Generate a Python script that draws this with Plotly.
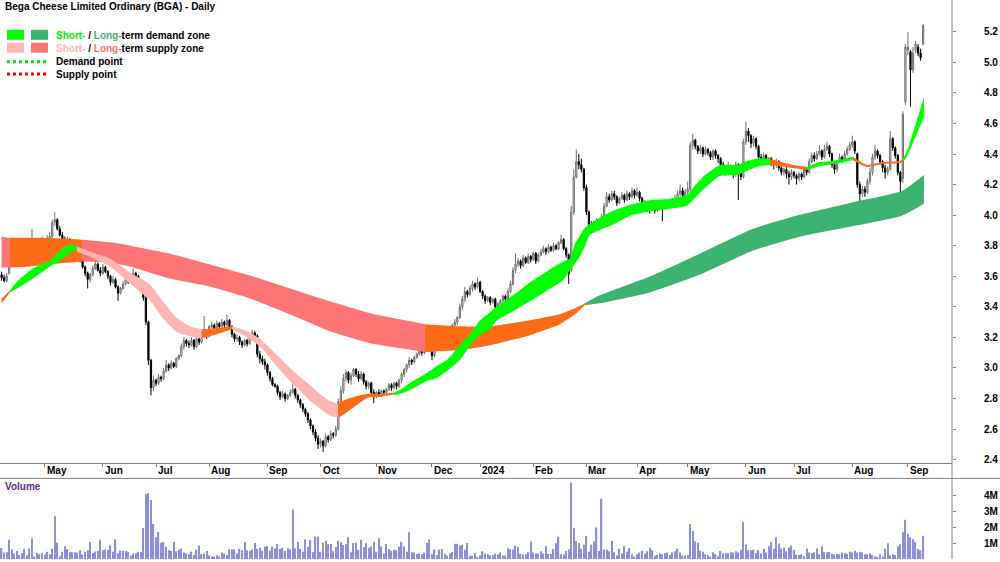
import pandas as pd
import plotly.graph_objects as go

# ---------------- data ----------------
HOLIDAYS = ['2023-04-07', '2023-04-10', '2023-04-25', '2023-06-12', '2023-12-25', '2023-12-26',
            '2024-01-01', '2024-01-26', '2024-03-29', '2024-04-01', '2024-04-25', '2024-06-10']

OPEN = [
    3.61, 3.59, 3.57, 3.62, 3.76, 3.78, 3.80, 3.77, 3.79, 3.81,
    3.80, 3.82, 3.80, 3.84, 3.82, 3.83, 3.81, 3.84, 3.82, 3.84,
    3.86, 3.95, 3.97, 3.91, 3.87, 3.84, 3.82, 3.84, 3.81, 3.76,
    3.73, 3.74, 3.70, 3.66, 3.62, 3.58, 3.61, 3.65, 3.68, 3.64,
    3.62, 3.66, 3.63, 3.60, 3.56, 3.58, 3.53, 3.49, 3.52, 3.55,
    3.58, 3.57, 3.60, 3.62, 3.60, 3.56, 3.54, 3.46, 3.30, 3.05,
    2.87, 2.92, 2.90, 2.94, 2.93, 2.98, 3.02, 3.00, 3.03, 3.01,
    3.06, 3.08, 3.14, 3.18, 3.16, 3.15, 3.18, 3.14, 3.19, 3.17,
    3.22, 3.24, 3.21, 3.27, 3.28, 3.26, 3.29, 3.27, 3.30, 3.28,
    3.31, 3.27, 3.22, 3.19, 3.20, 3.17, 3.15, 3.18, 3.16, 3.20,
    3.23, 3.21, 3.09, 3.06, 3.04, 3.02, 2.97, 2.93, 2.89, 2.88,
    2.84, 2.81, 2.83, 2.80, 2.82, 2.84, 2.86, 2.82, 2.79, 2.76,
    2.73, 2.70, 2.66, 2.62, 2.58, 2.54, 2.50, 2.52, 2.49, 2.55,
    2.53, 2.57, 2.56, 2.60, 2.78, 2.85, 2.93, 2.97, 2.92, 2.95,
    2.99, 2.96, 2.93, 2.96, 2.91, 2.88, 2.90, 2.84, 2.82, 2.84,
    2.83, 2.85, 2.84, 2.86, 2.89, 2.87, 2.90, 2.88, 2.92, 2.96,
    2.99, 3.02, 3.05, 3.04, 3.07, 3.09, 3.11, 3.10, 3.12, 3.15,
    3.22, 3.08, 3.16, 3.20, 3.14, 3.19, 3.24, 3.22, 3.25, 3.28,
    3.30, 3.33, 3.40, 3.45, 3.50, 3.48, 3.52, 3.55, 3.53, 3.56,
    3.50, 3.47, 3.44, 3.46, 3.43, 3.45, 3.40, 3.42, 3.44, 3.47,
    3.45, 3.50, 3.55, 3.64, 3.68, 3.70, 3.67, 3.72, 3.69, 3.73,
    3.71, 3.75, 3.70, 3.74, 3.76, 3.78, 3.76, 3.79, 3.77, 3.80,
    3.78, 3.82, 3.84, 3.78, 3.74, 3.64, 4.02, 4.25, 4.35, 4.33,
    4.30, 4.18, 4.02, 3.94, 3.90, 3.92, 3.96, 3.94, 3.99, 4.06,
    4.12, 4.10, 4.14, 4.12, 4.08, 4.11, 4.13, 4.10, 4.14, 4.12,
    4.16, 4.13, 4.15, 4.11, 4.06, 4.08, 4.05, 4.04, 4.07, 4.03,
    4.05, 4.08, 4.06, 4.09, 4.07, 4.10, 4.08, 4.11, 4.14, 4.16,
    4.13, 4.15, 4.17, 4.46, 4.49, 4.45, 4.42, 4.44, 4.40, 4.43,
    4.41, 4.38, 4.42, 4.39, 4.37, 4.33, 4.30, 4.28, 4.32, 4.29,
    4.27, 4.33, 4.30, 4.25, 4.48, 4.55, 4.52, 4.47, 4.50, 4.45,
    4.38, 4.36, 4.39, 4.35, 4.37, 4.34, 4.33, 4.35, 4.31, 4.28,
    4.30, 4.27, 4.25, 4.28, 4.26, 4.24, 4.27, 4.25, 4.30, 4.28,
    4.35, 4.39, 4.37, 4.40, 4.42, 4.38, 4.43, 4.45, 4.40, 4.33,
    4.30, 4.35, 4.38, 4.36, 4.40, 4.43, 4.46, 4.48, 4.40, 4.20,
    4.14, 4.17, 4.15, 4.22, 4.28, 4.38, 4.42, 4.39, 4.35, 4.31,
    4.28, 4.30, 4.50, 4.44, 4.39, 4.28, 4.24, 4.74, 5.08, 5.07,
    4.95, 5.08, 5.10, 5.06, 5.12,
]
HIGH = [
    3.63, 3.61, 3.62, 3.78, 3.80, 3.82, 3.81, 3.80, 3.83, 3.82,
    3.84, 3.83, 3.91, 3.85, 3.85, 3.84, 3.86, 3.85, 3.87, 3.89,
    3.97, 4.02, 3.98, 3.93, 3.89, 3.86, 3.86, 3.85, 3.82, 3.78,
    3.76, 3.75, 3.71, 3.67, 3.63, 3.62, 3.67, 3.72, 3.69, 3.66,
    3.68, 3.67, 3.64, 3.61, 3.60, 3.59, 3.54, 3.53, 3.57, 3.60,
    3.60, 3.61, 3.65, 3.63, 3.61, 3.58, 3.55, 3.47, 3.31, 3.06,
    2.95, 2.93, 2.96, 2.95, 3.00, 3.05, 3.03, 3.05, 3.04, 3.07,
    3.09, 3.16, 3.20, 3.19, 3.18, 3.20, 3.19, 3.21, 3.20, 3.24,
    3.34, 3.25, 3.28, 3.30, 3.29, 3.31, 3.30, 3.32, 3.31, 3.35,
    3.32, 3.28, 3.23, 3.22, 3.21, 3.18, 3.19, 3.19, 3.22, 3.25,
    3.24, 3.22, 3.11, 3.08, 3.06, 3.03, 2.98, 2.94, 2.90, 2.89,
    2.85, 2.85, 2.84, 2.83, 2.86, 2.90, 2.87, 2.83, 2.80, 2.77,
    2.74, 2.71, 2.67, 2.63, 2.60, 2.56, 2.54, 2.53, 2.57, 2.56,
    2.59, 2.58, 2.62, 2.80, 2.88, 2.96, 2.99, 2.98, 2.97, 3.00,
    3.00, 2.98, 2.98, 2.97, 2.92, 2.91, 2.91, 2.86, 2.85, 2.86,
    2.86, 2.86, 2.87, 2.90, 2.90, 2.91, 2.91, 2.93, 2.97, 3.00,
    3.03, 3.07, 3.06, 3.08, 3.10, 3.13, 3.12, 3.14, 3.17, 3.24,
    3.23, 3.17, 3.22, 3.21, 3.20, 3.25, 3.25, 3.26, 3.29, 3.32,
    3.34, 3.42, 3.47, 3.53, 3.51, 3.54, 3.57, 3.56, 3.59, 3.57,
    3.51, 3.48, 3.47, 3.47, 3.46, 3.46, 3.43, 3.45, 3.48, 3.48,
    3.52, 3.57, 3.66, 3.75, 3.72, 3.71, 3.74, 3.73, 3.75, 3.74,
    3.76, 3.76, 3.75, 3.78, 3.80, 3.79, 3.81, 3.80, 3.82, 3.81,
    3.83, 3.87, 3.85, 3.79, 3.75, 4.06, 4.30, 4.43, 4.40, 4.37,
    4.31, 4.20, 4.03, 3.96, 3.93, 3.98, 3.97, 4.01, 4.08, 4.15,
    4.14, 4.16, 4.16, 4.13, 4.12, 4.15, 4.14, 4.16, 4.15, 4.18,
    4.17, 4.18, 4.16, 4.12, 4.10, 4.09, 4.07, 4.09, 4.08, 4.07,
    4.09, 4.09, 4.10, 4.10, 4.11, 4.11, 4.13, 4.16, 4.20, 4.18,
    4.17, 4.22, 4.48, 4.53, 4.50, 4.46, 4.46, 4.45, 4.45, 4.44,
    4.42, 4.43, 4.43, 4.40, 4.38, 4.35, 4.32, 4.35, 4.33, 4.31,
    4.35, 4.34, 4.31, 4.50, 4.61, 4.57, 4.53, 4.52, 4.51, 4.46,
    4.40, 4.41, 4.40, 4.38, 4.38, 4.36, 4.37, 4.36, 4.32, 4.31,
    4.32, 4.29, 4.30, 4.29, 4.27, 4.28, 4.28, 4.32, 4.31, 4.37,
    4.41, 4.41, 4.42, 4.46, 4.43, 4.46, 4.48, 4.46, 4.41, 4.35,
    4.36, 4.40, 4.39, 4.42, 4.45, 4.48, 4.52, 4.49, 4.41, 4.22,
    4.19, 4.19, 4.24, 4.31, 4.40, 4.46, 4.43, 4.40, 4.36, 4.33,
    4.32, 4.55, 4.51, 4.45, 4.40, 4.29, 4.68, 5.12, 5.20, 5.08,
    5.10, 5.14, 5.12, 5.09, 5.25,
]
LOW = [
    3.57, 3.56, 3.56, 3.61, 3.75, 3.77, 3.76, 3.76, 3.78, 3.78,
    3.79, 3.79, 3.79, 3.81, 3.81, 3.80, 3.80, 3.81, 3.81, 3.83,
    3.85, 3.93, 3.90, 3.86, 3.83, 3.80, 3.81, 3.79, 3.75, 3.72,
    3.71, 3.69, 3.65, 3.60, 3.52, 3.56, 3.60, 3.64, 3.63, 3.60,
    3.61, 3.62, 3.58, 3.54, 3.55, 3.52, 3.44, 3.48, 3.51, 3.54,
    3.55, 3.56, 3.59, 3.58, 3.55, 3.52, 3.44, 3.28, 3.02, 2.82,
    2.85, 2.88, 2.89, 2.91, 2.92, 2.97, 2.98, 2.99, 3.00, 3.00,
    3.05, 3.07, 3.12, 3.14, 3.13, 3.14, 3.12, 3.13, 3.15, 3.16,
    3.20, 3.19, 3.20, 3.25, 3.24, 3.25, 3.25, 3.26, 3.26, 3.27,
    3.25, 3.20, 3.17, 3.17, 3.15, 3.13, 3.14, 3.14, 3.15, 3.19,
    3.19, 3.07, 3.03, 3.02, 2.99, 2.95, 2.91, 2.88, 2.87, 2.82,
    2.79, 2.80, 2.78, 2.79, 2.81, 2.83, 2.80, 2.77, 2.74, 2.71,
    2.68, 2.64, 2.60, 2.56, 2.52, 2.47, 2.48, 2.45, 2.48, 2.51,
    2.52, 2.54, 2.55, 2.59, 2.76, 2.83, 2.91, 2.90, 2.89, 2.94,
    2.94, 2.91, 2.92, 2.89, 2.86, 2.86, 2.82, 2.77, 2.80, 2.81,
    2.81, 2.82, 2.83, 2.85, 2.85, 2.86, 2.86, 2.87, 2.90, 2.94,
    2.97, 3.00, 3.02, 3.03, 3.06, 3.08, 3.08, 3.09, 3.11, 3.14,
    3.05, 3.07, 3.14, 3.12, 3.13, 3.18, 3.20, 3.21, 3.24, 3.26,
    3.28, 3.32, 3.38, 3.43, 3.46, 3.47, 3.50, 3.51, 3.52, 3.49,
    3.45, 3.42, 3.43, 3.41, 3.42, 3.34, 3.38, 3.41, 3.43, 3.43,
    3.44, 3.49, 3.54, 3.62, 3.66, 3.65, 3.66, 3.68, 3.68, 3.69,
    3.70, 3.68, 3.69, 3.73, 3.75, 3.74, 3.75, 3.76, 3.76, 3.77,
    3.77, 3.81, 3.77, 3.72, 3.55, 3.63, 4.00, 4.24, 4.30, 4.28,
    4.16, 4.00, 3.92, 3.88, 3.89, 3.91, 3.92, 3.93, 3.98, 4.05,
    4.08, 4.09, 4.10, 4.06, 4.07, 4.10, 4.08, 4.09, 4.10, 4.11,
    4.11, 4.12, 4.09, 4.02, 4.05, 4.02, 4.01, 4.03, 4.01, 4.02,
    4.03, 3.96, 4.04, 4.05, 4.06, 4.06, 4.07, 4.10, 4.12, 4.11,
    4.11, 4.13, 4.12, 4.43, 4.43, 4.40, 4.40, 4.38, 4.39, 4.39,
    4.36, 4.36, 4.37, 4.34, 4.30, 4.27, 4.26, 4.26, 4.27, 4.24,
    4.25, 4.10, 4.23, 4.24, 4.46, 4.48, 4.44, 4.45, 4.43, 4.36,
    4.34, 4.35, 4.33, 4.33, 4.32, 4.30, 4.31, 4.29, 4.26, 4.26,
    4.24, 4.20, 4.23, 4.24, 4.20, 4.22, 4.23, 4.24, 4.26, 4.27,
    4.34, 4.35, 4.36, 4.39, 4.36, 4.37, 4.42, 4.38, 4.31, 4.27,
    4.28, 4.34, 4.34, 4.35, 4.39, 4.42, 4.44, 4.40, 4.18, 4.09,
    4.12, 4.12, 4.14, 4.20, 4.26, 4.36, 4.37, 4.33, 4.28, 4.24,
    4.26, 4.29, 4.42, 4.37, 4.26, 4.15, 4.21, 4.72, 5.05, 4.71,
    4.93, 5.06, 5.04, 5.01, 5.11,
]
CLOSE = [
    3.59, 3.57, 3.60, 3.76, 3.78, 3.80, 3.77, 3.79, 3.81, 3.80,
    3.82, 3.80, 3.84, 3.82, 3.83, 3.81, 3.84, 3.82, 3.84, 3.86,
    3.95, 3.97, 3.91, 3.87, 3.84, 3.82, 3.84, 3.81, 3.76, 3.73,
    3.74, 3.70, 3.66, 3.62, 3.58, 3.61, 3.65, 3.68, 3.64, 3.62,
    3.66, 3.63, 3.60, 3.56, 3.58, 3.53, 3.49, 3.52, 3.55, 3.58,
    3.57, 3.60, 3.62, 3.60, 3.56, 3.54, 3.46, 3.30, 3.05, 2.87,
    2.92, 2.90, 2.94, 2.93, 2.98, 3.02, 3.00, 3.03, 3.01, 3.06,
    3.08, 3.14, 3.18, 3.16, 3.15, 3.18, 3.14, 3.19, 3.17, 3.22,
    3.24, 3.21, 3.27, 3.28, 3.26, 3.29, 3.27, 3.30, 3.28, 3.31,
    3.27, 3.22, 3.19, 3.20, 3.17, 3.15, 3.18, 3.16, 3.20, 3.23,
    3.21, 3.09, 3.06, 3.04, 3.02, 2.97, 2.93, 2.89, 2.88, 2.84,
    2.81, 2.83, 2.80, 2.82, 2.84, 2.86, 2.82, 2.79, 2.76, 2.73,
    2.70, 2.66, 2.62, 2.58, 2.54, 2.50, 2.52, 2.49, 2.55, 2.53,
    2.57, 2.56, 2.60, 2.78, 2.85, 2.93, 2.97, 2.92, 2.95, 2.99,
    2.96, 2.93, 2.96, 2.91, 2.88, 2.90, 2.84, 2.82, 2.84, 2.83,
    2.85, 2.84, 2.86, 2.89, 2.87, 2.90, 2.88, 2.92, 2.96, 2.99,
    3.02, 3.05, 3.04, 3.07, 3.09, 3.11, 3.10, 3.12, 3.15, 3.22,
    3.08, 3.16, 3.20, 3.14, 3.19, 3.24, 3.22, 3.25, 3.28, 3.30,
    3.33, 3.40, 3.45, 3.50, 3.48, 3.52, 3.55, 3.53, 3.56, 3.50,
    3.47, 3.44, 3.46, 3.43, 3.45, 3.40, 3.42, 3.44, 3.47, 3.45,
    3.50, 3.55, 3.64, 3.68, 3.70, 3.67, 3.72, 3.69, 3.73, 3.71,
    3.75, 3.70, 3.74, 3.76, 3.78, 3.76, 3.79, 3.77, 3.80, 3.78,
    3.82, 3.84, 3.78, 3.74, 3.62, 4.02, 4.25, 4.35, 4.33, 4.30,
    4.18, 4.02, 3.94, 3.90, 3.92, 3.96, 3.94, 3.99, 4.06, 4.12,
    4.10, 4.14, 4.12, 4.08, 4.11, 4.13, 4.10, 4.14, 4.12, 4.16,
    4.13, 4.15, 4.11, 4.06, 4.08, 4.05, 4.04, 4.07, 4.03, 4.05,
    4.08, 4.06, 4.09, 4.07, 4.10, 4.08, 4.11, 4.14, 4.16, 4.13,
    4.15, 4.17, 4.46, 4.49, 4.45, 4.42, 4.44, 4.40, 4.43, 4.41,
    4.38, 4.42, 4.39, 4.37, 4.33, 4.30, 4.28, 4.32, 4.29, 4.27,
    4.33, 4.30, 4.25, 4.48, 4.55, 4.52, 4.47, 4.50, 4.45, 4.38,
    4.36, 4.39, 4.35, 4.37, 4.34, 4.33, 4.35, 4.31, 4.28, 4.30,
    4.27, 4.25, 4.28, 4.26, 4.24, 4.27, 4.25, 4.30, 4.28, 4.35,
    4.39, 4.37, 4.40, 4.42, 4.38, 4.43, 4.45, 4.40, 4.33, 4.30,
    4.35, 4.38, 4.36, 4.40, 4.43, 4.46, 4.48, 4.42, 4.20, 4.14,
    4.17, 4.15, 4.22, 4.28, 4.38, 4.42, 4.39, 4.35, 4.31, 4.28,
    4.30, 4.50, 4.44, 4.39, 4.28, 4.22, 4.66, 5.10, 5.10, 4.95,
    5.06, 5.12, 5.06, 5.03, 5.24,
]
# volume in millions of shares
VOLUME_M = [
    0.68, 0.40, 0.42, 1.20, 0.60, 0.35, 0.50, 0.25, 0.38, 0.62,
    0.22, 0.66, 1.30, 0.15, 0.38, 0.30, 0.36, 0.28, 0.45, 0.30,
    0.64, 2.68, 1.02, 0.18, 0.45, 0.80, 0.62, 0.42, 0.43, 0.42,
    0.40, 0.55, 0.28, 0.45, 0.55, 1.06, 0.38, 0.47, 0.50, 1.20,
    0.55, 0.60, 0.56, 0.85, 0.45, 1.23, 0.36, 0.52, 0.52, 0.50,
    0.45, 0.20, 0.35, 0.36, 0.45, 0.44, 1.94, 4.06, 4.12, 3.70,
    2.19, 1.36, 1.68, 1.02, 1.06, 0.77, 0.55, 0.50, 1.06, 0.48,
    0.58, 0.66, 0.40, 0.35, 0.30, 0.46, 0.26, 0.58, 0.85, 0.30,
    0.34, 0.50, 0.24, 0.18, 0.14, 0.24, 0.15, 0.40, 0.34, 0.24,
    0.62, 0.60, 0.60, 0.34, 0.64, 0.55, 1.06, 0.55, 0.52, 0.60,
    1.00, 0.64, 0.70, 0.52, 0.78, 0.82, 0.52, 0.78, 0.66, 0.95,
    0.62, 0.70, 0.50, 0.68, 0.60, 3.10, 0.66, 1.06, 0.62, 0.45,
    1.23, 0.77, 1.19, 0.42, 1.40, 1.40, 0.45, 1.02, 1.15, 0.92,
    0.95, 0.48, 0.75, 1.15, 1.05, 0.88, 0.92, 1.36, 0.42, 1.00,
    1.04, 0.58, 1.20, 0.75, 0.98, 0.70, 0.78, 1.08, 0.45, 1.30,
    0.78, 0.35, 0.95, 0.62, 0.50, 0.58, 0.55, 0.76, 1.08, 0.80,
    0.45, 1.68, 0.42, 0.40, 0.32, 0.34, 0.30, 0.40, 1.00, 1.23,
    0.30, 0.60, 0.25, 0.60, 0.62, 0.33, 0.20, 0.34, 0.44, 0.95,
    0.95, 0.85, 0.90, 0.58, 1.00, 0.20, 0.20, 0.38, 0.12, 0.22,
    0.48, 0.35, 0.30, 0.22, 0.25, 0.33, 0.30, 0.40, 0.20, 0.22,
    0.68, 0.60, 0.60, 0.85, 0.75, 0.32, 0.28, 0.30, 0.42, 1.10,
    0.40, 0.35, 0.35, 0.48, 0.35, 0.80, 0.32, 0.32, 0.62, 0.98,
    1.40, 0.30, 0.28, 0.50, 0.60, 4.80, 1.94, 1.13, 1.00, 0.65,
    0.90, 1.44, 0.45, 0.90, 1.10, 1.98, 0.50, 3.78, 0.60, 0.58,
    0.48, 1.13, 0.42, 0.22, 0.65, 0.35, 0.80, 0.45, 0.68, 0.28,
    0.15, 0.30, 0.40, 0.52, 0.35, 0.48, 0.70, 0.55, 0.20, 0.25,
    0.34, 0.30, 0.36, 0.40, 0.25, 0.42, 0.48, 0.65, 0.40, 0.20,
    0.22, 0.25, 2.19, 1.76, 1.10, 1.02, 0.52, 0.45, 0.30, 0.25,
    0.15, 0.42, 0.30, 0.15, 0.50, 0.35, 0.36, 0.36, 0.42, 0.40,
    0.48, 0.40, 0.58, 2.31, 0.90, 0.55, 0.55, 0.58, 0.38, 0.55,
    0.35, 0.65, 0.40, 0.80, 1.08, 0.65, 1.36, 0.97, 0.66, 0.70,
    0.48, 0.72, 0.85, 0.56, 0.28, 0.25, 0.28, 0.18, 0.66, 0.40,
    0.38, 0.42, 0.66, 0.28, 0.78, 0.45, 0.42, 0.45, 0.32, 0.28,
    0.32, 0.30, 0.40, 0.38, 0.32, 0.45, 0.40, 0.52, 0.40, 0.45,
    0.42, 0.30, 0.30, 0.36, 0.25, 0.15, 0.14, 0.28, 0.15, 0.64,
    0.98, 0.22, 0.30, 0.25, 0.78, 0.92, 1.68, 2.46, 1.58, 1.36,
    1.23, 1.06, 0.64, 0.55, 1.46,
]

# Long-term zone edges (bar index, upper price, lower price)
LT_X = [0, 3.3, 11.2, 20.0, 32.1, 42.8, 50.7, 66.5, 82.3, 98.1, 113.9, 129.7, 145.5, 157.3,
        167.2, 181.0, 192.9, 208.7, 220.5, 226.5, 230.4, 236.3, 256.1, 275.8, 296.8, 315.3,
        335.1, 355.6, 364.3]
LT_HI = [3.859, 3.852, 3.852, 3.850, 3.839, 3.822, 3.800, 3.748, 3.677, 3.605, 3.520, 3.436, 3.358, 3.318,
         3.286, 3.273, 3.273, 3.312, 3.351, 3.390, 3.423, 3.475, 3.598, 3.748, 3.911, 4.002,
         4.080, 4.158, 4.263]
LT_LO = [3.657, 3.657, 3.664, 3.680, 3.696, 3.690, 3.664, 3.585, 3.533, 3.455, 3.351, 3.240, 3.162, 3.130,
         3.104, 3.117, 3.149, 3.214, 3.286, 3.351, 3.410, 3.423, 3.494, 3.611, 3.768, 3.859,
         3.924, 3.996, 4.074]
# colour segments: (from index, to index, zone)
LT_SEGMENTS = [(0, 3.3, 'lt_supply'), (3.3, 32.1, 'conflict'), (32.1, 167.2, 'lt_supply'),
               (167.2, 230.4, 'conflict'), (230.4, 364.3, 'lt_demand')]

# Short-term zone edges
ST_X = [0, 3.3, 6.1, 12.4, 19.1, 23.1, 25.8, 28.2, 29.8, 34.9, 42.8, 50.7, 58.6, 63.7, 69.3, 74.4,
        79.1, 85.1, 91.0, 96.1, 99.3, 102.8, 106.0, 110.0, 113.9, 117.9, 121.8, 125.8, 129.7,
        132.9, 135.6, 140.4, 144.3, 149.4, 154.6, 157.3, 161.3, 168.0, 171.9, 175.9, 181.0,
        186.2, 189.0, 192.9, 195.7, 202.0, 208.7, 215.4, 221.7, 224.5, 226.5, 228.4, 230.4,
        232.4, 241.5, 248.2, 257.3, 264.0, 270.7, 273.1, 277.0, 283.7, 290.4, 294.4, 299.5,
        303.5, 312.6, 318.1, 323.2, 328.4, 336.3, 341.8, 348.1, 354.8, 356.0, 357.6, 364.3]
ST_HI = [3.455, 3.507, 3.566, 3.651, 3.703, 3.768, 3.800, 3.807, 3.794, 3.761, 3.716, 3.624, 3.546,
         3.436, 3.325, 3.273, 3.253, 3.260, 3.273, 3.247, 3.221, 3.182, 3.130, 3.065, 3.000, 2.941,
         2.889, 2.830, 2.785, 2.765, 2.791, 2.817, 2.830, 2.830, 2.837, 2.856, 2.902, 2.967, 3.013,
         3.052, 3.149, 3.247, 3.312, 3.364, 3.403, 3.475, 3.559, 3.631, 3.696, 3.716, 3.813, 3.865,
         3.917, 3.944, 4.028, 4.067, 4.100, 4.106, 4.132, 4.178, 4.250, 4.328, 4.328, 4.354, 4.373,
         4.367, 4.328, 4.315, 4.347, 4.354, 4.380, 4.328, 4.347, 4.354, 4.367, 4.419, 4.770]
ST_LO = [3.423, 3.494, 3.520, 3.585, 3.664, 3.703, 3.735, 3.768, 3.761, 3.729, 3.664, 3.553, 3.442,
         3.325, 3.234, 3.208, 3.195, 3.221, 3.253, 3.208, 3.175, 3.130, 3.065, 2.986, 2.915, 2.850,
         2.785, 2.733, 2.687, 2.674, 2.700, 2.759, 2.804, 2.811, 2.824, 2.830, 2.856, 2.915, 2.934,
         2.980, 3.052, 3.169, 3.214, 3.253, 3.312, 3.371, 3.436, 3.507, 3.572, 3.638, 3.683, 3.729,
         3.794, 3.872, 3.937, 3.996, 4.028, 4.041, 4.061, 4.100, 4.165, 4.256, 4.263, 4.289, 4.321,
         4.328, 4.308, 4.295, 4.321, 4.334, 4.360, 4.315, 4.334, 4.341, 4.347, 4.386, 4.640]
ST_SEGMENTS = [(0, 3.3, 'conflict'), (3.3, 29.8, 'st_demand'), (29.8, 79.1, 'st_supply'),
               (79.1, 91.0, 'conflict'), (91.0, 132.9, 'st_supply'), (132.9, 154.6, 'conflict'),
               (154.6, 303.5, 'st_demand'), (303.5, 318.1, 'conflict'), (318.1, 336.3, 'st_demand'),
               (336.3, 356.0, 'conflict'), (356.0, 364.3, 'st_demand')]

PRICE_TICKS = [2.4, 2.6, 2.8, 3.0, 3.2, 3.4, 3.6, 3.8, 4.0, 4.2, 4.4, 4.6, 4.8, 5.0, 5.2]
VOLUME_TICKS = [1, 2, 3, 4]
MONTHS = ['2023-05', '2023-06', '2023-07', '2023-08', '2023-09', '2023-10', '2023-11', '2023-12',
          '2024-01', '2024-02', '2024-03', '2024-04', '2024-05', '2024-06', '2024-07', '2024-08', '2024-09']
MONTH_LABELS = ['May', 'Jun', 'Jul', 'Aug', 'Sep', 'Oct', 'Nov', 'Dec', '2024', 'Feb', 'Mar', 'Apr',
                'May', 'Jun', 'Jul', 'Aug', 'Sep']

# ---------------- styling ----------------
COLORS = {
    'st_demand': '#00FF00',
    'lt_demand': '#3CB371',
    'st_supply': '#FFB5B5',
    'lt_supply': '#FF7474',
    'conflict': '#FF6A16',
}
FONT = 'Liberation Sans, Arial, sans-serif'
W, H = 1000, 562
PLOT_R = 952          # right edge of plotting area in px
PRICE_BOTTOM = 465    # px
VOL_TOP = 481         # px

dates = [d for d in pd.bdate_range('2023-04-03', '2024-09-10') if d.strftime('%Y-%m-%d') not in HOLIDAYS]
idx = list(range(len(CLOSE)))
month_idx = []
for m in MONTHS:
    for i, d in enumerate(dates):
        if d.strftime('%Y-%m') == m:
            month_idx.append(i)
            break


def py(pxy):
    return (H - pxy) / H


def px(pxx):
    return pxx / PLOT_R


fig = go.Figure()


def add_band(xs, hi, lo, x0, x1, color):
    sel = [k for k, x in enumerate(xs) if x0 - 1e-9 <= x <= x1 + 1e-9]
    bx = [xs[k] for k in sel]
    bh = [hi[k] for k in sel]
    bl = [lo[k] for k in sel]
    ln = dict(width=0, shape='spline', smoothing=0.5)
    fig.add_trace(go.Scatter(x=bx, y=bl, mode='lines', line=ln, hoverinfo='skip',
                             showlegend=False, xaxis='x', yaxis='y'))
    fig.add_trace(go.Scatter(x=bx, y=bh, mode='lines', line=ln, fill='tonexty', fillcolor=color,
                             hoverinfo='skip', showlegend=False, xaxis='x', yaxis='y'))


for a, b, z in LT_SEGMENTS:
    add_band(LT_X, LT_HI, LT_LO, a, b, COLORS[z])
for a, b, z in ST_SEGMENTS:
    add_band(ST_X, ST_HI, ST_LO, a, b, COLORS[z])

fig.add_trace(go.Candlestick(
    x=idx, open=OPEN, high=HIGH, low=LOW, close=CLOSE,
    increasing=dict(line=dict(color='#6e6e6e', width=1), fillcolor='#e6e6e6'),
    decreasing=dict(line=dict(color='#000000', width=1), fillcolor='#000000'),
    whiskerwidth=0, showlegend=False, xaxis='x', yaxis='y', hoverinfo='skip'))

fig.add_trace(go.Bar(x=idx, y=VOLUME_M, marker=dict(color='#8E8EDA', line=dict(width=0)),
                     width=0.5, showlegend=False, xaxis='x2', yaxis='y2', hoverinfo='skip'))

x_range = [-0.63, 375.4]
fig.update_layout(
    width=W, height=H, margin=dict(l=0, r=W - PLOT_R, t=0, b=0),
    paper_bgcolor='white', plot_bgcolor='white', showlegend=False,
    font=dict(family=FONT, size=10, color='black'),
    xaxis=dict(domain=[0, 1], anchor='y', range=x_range, showgrid=False, zeroline=False,
               showline=True, linecolor='#808080', linewidth=1,
               ticks='outside', ticklen=3, tickcolor='#808080', tickvals=month_idx,
               showticklabels=False, rangeslider=dict(visible=False), fixedrange=True),
    xaxis2=dict(domain=[0, 1], anchor='y2', matches='x', range=x_range, showgrid=False,
                zeroline=False, showline=False, showticklabels=False, ticks=''),
    yaxis=dict(domain=[py(PRICE_BOTTOM), 1], anchor='x', range=[2.381, 5.408], side='right',
               showgrid=False, zeroline=False, showline=False,
               ticks='outside', ticklen=3, tickcolor='#808080',
               tickvals=PRICE_TICKS, ticktext=['%.1f' % v for v in PRICE_TICKS],
               tickfont=dict(family=FONT, size=10, color='black', weight='bold'),
               ticklabelstandoff=26),
    yaxis2=dict(domain=[0, py(VOL_TOP)], anchor='x2', range=[0, 5.05], side='right',
                showgrid=False, zeroline=False, showline=False,
                ticks='outside', ticklen=3, tickcolor='#808080',
                tickvals=VOLUME_TICKS, ticktext=['%dM' % v for v in VOLUME_TICKS],
                tickfont=dict(family=FONT, size=10, color='black', weight='bold'),
                ticklabelstandoff=26),
)

shapes = [
    # right axis line, full height
    dict(type='line', xref='paper', yref='paper', x0=1, x1=1, y0=0, y1=1,
         line=dict(color='#808080', width=1)),
    # volume panel top separator, full width
    dict(type='line', xref='paper', yref='paper', x0=0, x1=W / PLOT_R, y0=py(VOL_TOP), y1=py(VOL_TOP),
         line=dict(color='#808080', width=1)),
    # legend swatches
    dict(type='rect', xref='paper', yref='paper', x0=px(7), x1=px(24), y0=py(40), y1=py(30),
         fillcolor=COLORS['st_demand'], line=dict(width=0)),
    dict(type='rect', xref='paper', yref='paper', x0=px(31), x1=px(48), y0=py(40), y1=py(30),
         fillcolor=COLORS['lt_demand'], line=dict(width=0)),
    dict(type='rect', xref='paper', yref='paper', x0=px(7), x1=px(24), y0=py(53), y1=py(43),
         fillcolor=COLORS['st_supply'], line=dict(width=0)),
    dict(type='rect', xref='paper', yref='paper', x0=px(31), x1=px(48), y0=py(53), y1=py(43),
         fillcolor=COLORS['lt_supply'], line=dict(width=0)),
    dict(type='line', xref='paper', yref='paper', x0=px(7), x1=px(48), y0=py(62), y1=py(62),
         line=dict(color='#00DD00', width=3, dash='dot')),
    dict(type='line', xref='paper', yref='paper', x0=px(7), x1=px(48), y0=py(74.5), y1=py(74.5),
         line=dict(color='#FF0000', width=3, dash='dot')),
]
fig.update_layout(shapes=shapes)

bold = dict(family=FONT, size=10, color='black', weight='bold')
ann = [
    dict(text='Bega Cheese Limited Ordinary (BGA) - Daily', x=px(3), y=py(6.5)),
    dict(text="<span style='color:#00EE00'>Short-</span> / <span style='color:#3CB371'>Long-</span>term demand zone",
         x=px(54), y=py(35.5)),
    dict(text="<span style='color:#FFB5B5'>Short-</span> / <span style='color:#FF7070'>Long-</span>term supply zone",
         x=px(54), y=py(48.5)),
    dict(text='Demand point', x=px(54), y=py(62)),
    dict(text='Supply point', x=px(54), y=py(74.5)),
    dict(text="<span style='color:#5B2C8F'>Volume</span>", x=px(3), y=py(489)),
]
annotations = []
for a in ann:
    annotations.append(dict(text=a['text'], x=a['x'], y=a['y'], xref='paper', yref='paper',
                            xanchor='left', yanchor='middle', showarrow=False, font=bold))
for mi, lab in zip(month_idx, MONTH_LABELS):
    annotations.append(dict(text=lab, x=mi, y=py(473), xref='x', yref='paper', xanchor='left',
                            yanchor='middle', xshift=0, showarrow=False, font=bold))
fig.update_layout(annotations=annotations)

fig.write_html('out.html')
